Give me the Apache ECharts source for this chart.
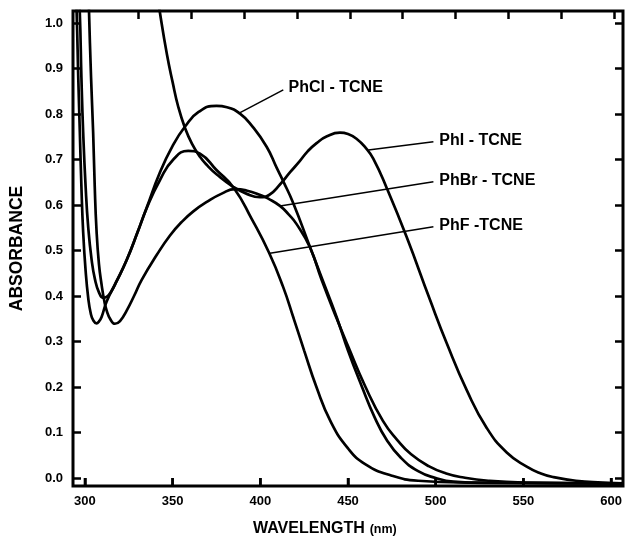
<!doctype html>
<html>
<head>
<meta charset="utf-8">
<title>TCNE complexes</title>
<script src="https://cdn.jsdelivr.net/npm/echarts@6/dist/echarts.min.js"></script>
<style> html, body, #main {width: 100%; height: 100%; margin: 0; background: #fff;} </style>
</head>
<body>
<div id="main"></div>
<script>
// tick values
var wavelengthTicks = [300, 350, 400, 450, 500, 550, 600];
var absorbanceTicks = [0, 0.1, 0.2, 0.3, 0.4, 0.5, 0.6, 0.7, 0.8, 0.9, 1.0];
var topTicks = [330.2, 360.4, 390.6, 420.8, 451, 481.2, 511.4, 541.6, 571.8, 602];

var curveNames = ['PhCl - TCNE', 'PhI - TCNE', 'PhBr - TCNE', 'PhF -TCNE'];

// [wavelength nm, absorbance]
var phCl = [[295.5,1.15],[297.1,1.02],[298,0.88],[299,0.76],[300.4,0.64],[301.9,0.55],[303.8,0.48],[305.7,0.437],[308,0.408],[310.4,0.396],[312.4,0.398],[315,0.41],[318,0.432],[323.8,0.479],[330,0.54],[335.2,0.594],[342.8,0.672],[350,0.73],[357,0.772],[365,0.805],[375,0.818],[381,0.815],[388.4,0.801],[395,0.775],[403.6,0.728],[409.3,0.682],[413.1,0.652],[418.8,0.604],[428.3,0.508],[435,0.44],[443.5,0.354],[450,0.28],[458,0.2],[465,0.135],[472,0.084],[480,0.045],[490,0.015],[500,0.0],[510,-0.008],[530,-0.011],[607,-0.012]];
var phI = [[339,1.12],[342.8,1.022],[346.8,0.93],[350,0.87],[353.2,0.816],[357,0.77],[361,0.735],[365.6,0.706],[370,0.686],[375.2,0.667],[384.5,0.64],[392,0.625],[399.8,0.617],[405,0.622],[411.2,0.645],[417,0.672],[422.6,0.697],[427,0.718],[432.1,0.736],[438,0.751],[445.4,0.759],[450,0.756],[455,0.745],[460,0.726],[464.4,0.702],[472,0.638],[483.4,0.53],[496.8,0.391],[506.3,0.296],[517.7,0.193],[529.1,0.11],[540.5,0.056],[551.9,0.025],[560,0.01],[567,0.002],[580,-0.006],[595,-0.01],[607,-0.012]];
var phBr = [[301.5,1.15],[302.3,1.03],[303.5,0.88],[304.7,0.758],[305.6,0.64],[306.6,0.545],[308,0.47],[309.5,0.425],[311,0.39],[312.4,0.368],[314.5,0.349],[317.1,0.339],[320,0.345],[323.8,0.368],[328,0.4],[332.3,0.435],[340.9,0.49],[348.5,0.533],[355,0.562],[361.8,0.586],[370,0.608],[378,0.625],[385.6,0.635],[392,0.632],[400,0.622],[405,0.613],[411.2,0.598],[416,0.58],[420.7,0.558],[428.3,0.507],[435,0.435],[443.5,0.351],[450,0.29],[460,0.2],[470,0.125],[478,0.084],[486,0.052],[496,0.026],[506,0.01],[516,0.001],[530,-0.006],[550,-0.01],[607,-0.012]];
var phF = [[294,1.15],[295.3,1.02],[296.2,0.88],[297.1,0.76],[298,0.64],[299,0.54],[300.4,0.455],[301.9,0.395],[303.3,0.362],[304.7,0.347],[306.6,0.34],[308,0.344],[309.5,0.354],[312.4,0.388],[318,0.432],[323.8,0.479],[330,0.54],[335.2,0.593],[342.8,0.655],[350.4,0.7],[358.9,0.719],[365.6,0.713],[375,0.677],[385,0.637],[395,0.57],[405,0.495],[413,0.42],[419,0.351],[425,0.28],[432,0.2],[440,0.125],[450,0.065],[460,0.03],[475,0.005],[490,-0.006],[520,-0.01],[607,-0.012]];

// leader lines: point on curve -> label anchor
var leaderStart = [[387.4, 0.801], [461.6, 0.721], [411.2, 0.598], [405.5, 0.494]];
var leaderEnd = [[413.1, 0.853], [498.7, 0.739], [498.7, 0.651], [498.7, 0.552]];

var curves = [phCl, phI, phBr, phF];
var FONT = '"Liberation Sans", Arial, Helvetica, sans-serif';
var X_MIN = 293.2, X_MAX = 606.8, Y_MIN = -0.0176, Y_MAX = 1.0264;

var chart = echarts.init(document.getElementById('main'));

function ticks(values) {
    return {show: true, inside: true, length: 8, customValues: values, lineStyle: {color: '#000', width: 2.5}};
}
function noLine() { return {show: false, onZero: false}; }

var series = curves.map(function (pts, i) {
    return {
        name: curveNames[i],
        type: 'line',
        data: pts,
        smooth: 0.5,
        showSymbol: false,
        clip: true,
        lineStyle: {color: '#000', width: 2.7},
        silent: true,
        markLine: {
            silent: true,
            symbol: ['none', 'none'],
            animation: false,
            lineStyle: {color: '#000', width: 1.5, type: 'solid'},
            label: {
                show: true, position: 'end', distance: 6,
                formatter: curveNames[i],
                color: '#000', fontWeight: 'bold', fontSize: 16, fontFamily: FONT
            },
            data: [[{coord: leaderStart[i]}, {coord: leaderEnd[i]}]]
        }
    };
});

// bottom wavelength ticks: short strokes from the frame up to the 0.0 level
series.push({
    name: 'bottom ticks',
    type: 'custom',
    silent: true,
    clip: false,
    z: 10,
    data: wavelengthTicks.map(function (w) { return [w, 0]; }),
    renderItem: function (params, api) {
        var top = api.coord([api.value(0), api.value(1)]);
        var bottom = api.coord([api.value(0), Y_MIN]);
        return {
            type: 'line',
            shape: {x1: top[0], y1: top[1], x2: bottom[0], y2: bottom[1]},
            style: {stroke: '#000', lineWidth: 2.5}
        };
    }
});

var option = {
    backgroundColor: '#fff',
    animation: false,
    title: {
        text: '{a|WAVELENGTH} {b|(nm)}',
        left: 248, top: 515,
        textStyle: {
            rich: {
                a: {fontSize: 16, fontWeight: 'bold', color: '#000', fontFamily: FONT},
                b: {fontSize: 12.5, fontWeight: 'bold', color: '#000', fontFamily: FONT, padding: [2, 0, 0, 0]}
            }
        }
    },
    grid: {left: 73, right: 3, top: 11, bottom: 53, show: true, borderColor: '#000', borderWidth: 3, backgroundColor: 'transparent'},
    xAxis: [{
        type: 'value', position: 'bottom', min: X_MIN, max: X_MAX,
        axisLine: noLine(), splitLine: {show: false},
        axisTick: ticks(wavelengthTicks),
        axisLabel: {customValues: wavelengthTicks, margin: 9, color: '#000', fontWeight: 'bold', fontSize: 13, fontFamily: FONT}
    }, {
        type: 'value', position: 'top', min: X_MIN, max: X_MAX,
        axisLine: noLine(), splitLine: {show: false},
        axisTick: ticks(topTicks),
        axisLabel: {show: false}
    }],
    yAxis: [{
        type: 'value', position: 'left', min: Y_MIN, max: Y_MAX,
        name: 'ABSORBANCE', nameLocation: 'middle', nameGap: 47, nameRotate: 90,
        nameTextStyle: {color: '#000', fontWeight: 'bold', fontSize: 17.5, fontFamily: FONT},
        axisLine: noLine(), splitLine: {show: false},
        axisTick: ticks(absorbanceTicks),
        axisLabel: {customValues: absorbanceTicks, margin: 10, color: '#000', fontWeight: 'bold', fontSize: 13, fontFamily: FONT,
            formatter: function (v) { return v.toFixed(1); }}
    }, {
        type: 'value', position: 'right', min: Y_MIN, max: Y_MAX,
        axisLine: noLine(), splitLine: {show: false},
        axisTick: ticks(absorbanceTicks),
        axisLabel: {show: false}
    }],
    series: series
};
chart.setOption(option);
</script>
</body>
</html>
